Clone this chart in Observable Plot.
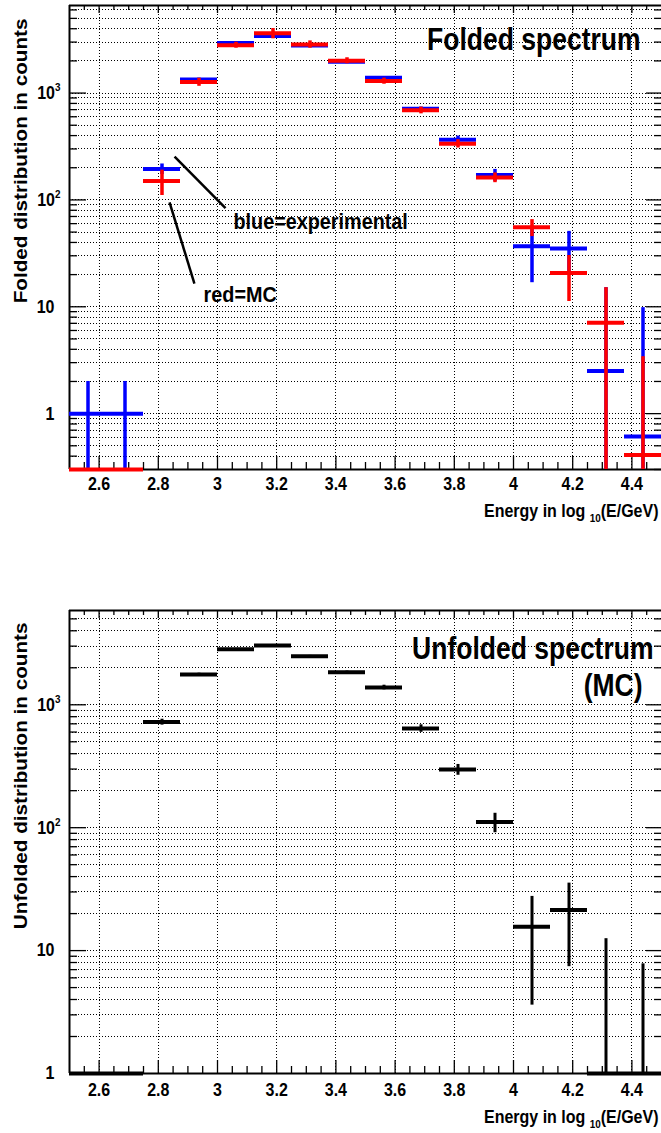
<!DOCTYPE html>
<html>
<head>
<meta charset="utf-8">
<script src="https://cdn.jsdelivr.net/npm/d3@7"></script>
<script src="https://cdn.jsdelivr.net/npm/@observablehq/plot@0.6"></script>
<style>
  html, body { margin: 0; padding: 0; background: #fff; overflow: hidden; }
  #chart svg { display: block; }
</style>
</head>
<body>
<div id="chart"></div>
<script>
// Energy bins in log10(E/GeV): bin centres, fixed bin width
const binCenters = [2.5625, 2.6875, 2.8125, 2.9375, 3.0625, 3.1875, 3.3125, 3.4375,
                    3.5625, 3.6875, 3.8125, 3.9375, 4.0625, 4.1875, 4.3125, 4.4375];
const binWidth = 0.125;

// Folded spectrum: experimental data (blue)
const foldedExp    = [1, 1, 195, 1340, 2940, 3420, 2790, 1960, 1390, 712, 366, 171, 36.8, 35.2, 2.5, 0.61];
const foldedExpErr = [1, 1, 22, 37, 54, 59, 53, 44, 37, 27, 30, 22, 20, 15.6, 12.6, 9.2];
// Folded spectrum: Monte Carlo (red)
const foldedMC     = [0, 0, 150, 1267, 2810, 3620, 2855, 2010, 1295, 689, 336, 162, 55.4, 20.7, 7.1, 0.41];
const foldedMCErr  = [0, 0, 40, 110, 180, 400, 225, 130, 85, 50, 30, 17, 10, 9.5, 8, 3];
// Unfolded spectrum, Monte Carlo (black)
const unfolded     = [0, 0, 723, 1762, 2831, 3034, 2483, 1841, 1383, 642, 297, 111, 15.6, 21.4, 0, 0];
const unfoldedErr  = [0, 0, 40, 45, 45, 45, 40, 40, 60, 45, 30, 20, 12, 14, 12.5, 7.8];

// Axis ticks and labels
const xMajor = [2.6, 2.8, 3.0, 3.2, 3.4, 3.6, 3.8, 4.0, 4.2, 4.4];
const xTickLabels = ["2.6", "2.8", "3", "3.2", "3.4", "3.6", "3.8", "4", "4.2", "4.4"];
const yTickValues = [1, 10, 100, 1000];
const yTickLabels = ["1", "10", "10^{2}", "10^{3}"];

const FONT = "'Liberation Sans', Arial, Helvetica, sans-serif";
const TEXT_STRETCH = 1.15;   // tall, narrow lettering of the ROOT canvas
const W = 661, ML = 69, MR = 0;
const xDomain = [2.5, 4.5];
const xMinor = d3.range(2.55, 4.5, 0.05).map(v => +v.toFixed(2))
  .filter(v => !xMajor.some(m => Math.abs(m - v) < 1e-6));

// 1..9 x 10^k subdivisions of a log axis
function logSteps(lo, hi) {
  const out = [];
  for (let e = Math.floor(Math.log10(lo)); Math.pow(10, e) <= hi; e++) {
    for (let m = 1; m <= 9; m++) {
      const v = m * Math.pow(10, e);
      if (v >= lo * 0.9999 && v <= hi) out.push({v, major: m === 1});
    }
  }
  return out;
}

function binRows(vals, errs, yMin) {
  return binCenters.map((c, i) => ({
    x: c, x1: c - binWidth / 2, x2: c + binWidth / 2,
    y: Math.max(vals[i], yMin),
    lo: Math.max(vals[i] - errs[i], yMin),
    hi: Math.max(vals[i] + errs[i], yMin),
    err: errs[i]
  }));
}

function histMarks(rows, color, barWidth, errWidth) {
  return [
    Plot.ruleY(rows, {y: "y", x1: "x1", x2: "x2", stroke: color, strokeWidth: barWidth}),
    Plot.ruleX(rows.filter(d => d.err > 0), {x: "x", y1: "lo", y2: "hi", stroke: color, strokeWidth: errWidth})
  ];
}

// grid, inward ticks, frame lines and tick labels in the ROOT style
function frameMarks(yDomain, fh, labelDy) {
  const fw = W - ML - MR;
  const steps = logSteps(yDomain[0], yDomain[1]);
  const grid = steps.filter(d => d.v > yDomain[0] * 1.0001);
  const major = steps.filter(d => d.major);
  const minor = steps.filter(d => !d.major);
  const dotted = {stroke: "#000", strokeWidth: 1, strokeDasharray: "1,2", shapeRendering: "crispEdges"};
  const tick = {strokeWidth: 1.3};
  const yLab = yTickValues.map((v, i) => ({v, label: yTickLabels[i]}));
  return [
    Plot.ruleX(xMajor, dotted),
    Plot.ruleY(grid, {y: "v", ...dotted}),
    Plot.ruleX(xMajor, {insetTop: fh - 13, ...tick}),
    Plot.ruleX(xMinor, {insetTop: fh - 7, ...tick}),
    Plot.ruleX(xMajor, {insetBottom: fh - 8, ...tick}),
    Plot.ruleX(xMinor, {insetBottom: fh - 5, ...tick}),
    Plot.ruleY(major, {y: "v", insetRight: fw - 17, ...tick}),
    Plot.ruleY(minor, {y: "v", insetRight: fw - 8, ...tick}),
    Plot.ruleY(major, {y: "v", insetLeft: fw - 15, ...tick}),
    Plot.ruleY(minor, {y: "v", insetLeft: fw - 7, ...tick}),
    Plot.ruleX([xDomain[0]], {strokeWidth: 2}),
    Plot.ruleY([yDomain[0]], {strokeWidth: 2}),
    Plot.ruleY([yDomain[1]], {strokeWidth: 2}),
    Plot.text(xMajor, {x: d => d, text: (d, i) => xTickLabels[i], frameAnchor: "bottom", dy: labelDy,
      fontSize: 16, fontWeight: "bold"}),
    Plot.text(yLab.filter(d => !d.label.includes("^")), {y: "v", text: "label", frameAnchor: "left",
      textAnchor: "end", dx: -15, fontSize: 16, fontWeight: "bold"}),
    Plot.text(yLab.filter(d => d.label.includes("^")), {y: "v", text: "label", frameAnchor: "left",
      textAnchor: "end", dx: -9, fontSize: 16, fontWeight: "bold"}),
    Plot.text(["Energy in log _{10}(E/GeV)"], {frameAnchor: "bottom-right", textAnchor: "end",
      dx: -3, dy: labelDy + 27, fontSize: 16, fontWeight: "bold"})
  ];
}

// turn ^{..} and _{..} into raised / lowered tspans
function richText(svg) {
  svg.querySelectorAll("text").forEach(t => {
    const s = t.textContent;
    if (!/[\^_]\{/.test(s)) return;
    const fs = parseFloat(getComputedStyle(t).fontSize) || 16;
    t.textContent = "";
    const re = /([\^_])\{([^}]*)\}/g;
    let last = 0, m, shift = 0;
    const add = (str, kind) => {
      const sp = document.createElementNS("http://www.w3.org/2000/svg", "tspan");
      sp.textContent = str;
      const target = kind === "^" ? -0.42 * fs : kind === "_" ? 0.32 * fs : 0;
      sp.setAttribute("dy", target - shift);
      shift = target;
      if (kind) sp.setAttribute("font-size", (0.62 * fs).toFixed(1));
      t.appendChild(sp);
    };
    while ((m = re.exec(s))) {
      if (m.index > last) add(s.slice(last, m.index), null);
      add(m[2], m[1]);
      last = re.lastIndex;
    }
    if (last < s.length) add(s.slice(last), null);
  });
}

// stretch glyphs along the screen's vertical direction around each text's anchor
function stretchText(svg, k) {
  svg.querySelectorAll("text").forEach(t => {
    const tr = t.getAttribute("transform") || "";
    if (!tr) return;
    t.setAttribute("transform", tr + (/rotate\(\s*-?90/.test(tr) ? ` scale(${k},1)` : ` scale(1,${k})`));
  });
}

// Folded spectrum panel
const topY = [0.3, 6600];
const topH = 540, topMT = 5, topMB = 71;
const topPlot = Plot.plot({
  width: W, height: topH, marginLeft: ML, marginRight: MR, marginTop: topMT, marginBottom: topMB,
  style: {fontFamily: FONT, background: "#fff", color: "#000"},
  x: {domain: xDomain, axis: null},
  y: {type: "log", domain: topY, axis: null},
  marks: [
    ...frameMarks(topY, topH - topMT - topMB, 20),
    ...histMarks(binRows(foldedExp, foldedExpErr, topY[0]), "#0000ff", 4, 3.5),
    ...histMarks(binRows(foldedMC, foldedMCErr, topY[0]), "#ff0000", 4, 3.5),
    Plot.link([{x1: 2.855, y1: 254, x2: 3.027, y2: 84}, {x1: 2.838, y1: 95, x2: 2.922, y2: 16.5}],
      {x1: "x1", y1: "y1", x2: "x2", y2: "y2", stroke: "#000", strokeWidth: 2.5}),
    Plot.text([{x: 3.054, y: 63, t: "blue=experimental"}, {x: 2.953, y: 13, t: "red=MC"}],
      {x: "x", y: "y", text: "t", textAnchor: "start", fontSize: 19.8, fontWeight: "bold"}),
    Plot.text(["Folded spectrum"], {frameAnchor: "top-right", textAnchor: "end", lineAnchor: "top",
      dx: -21, dy: 23, fontSize: 26.5, fontWeight: "bold"}),
    Plot.text(["Folded distribution in counts"], {frameAnchor: "top-left", rotate: -90, textAnchor: "end",
      dx: -55, dy: 13, fontSize: 18, fontWeight: "bold"})
  ]
});

// Unfolded spectrum panel
const botY = [1, 5850];
const botH = 593, botMT = 70, botMB = 60;
const botPlot = Plot.plot({
  width: W, height: botH, marginLeft: ML, marginRight: MR, marginTop: botMT, marginBottom: botMB,
  style: {fontFamily: FONT, background: "#fff", color: "#000"},
  x: {domain: xDomain, axis: null},
  y: {type: "log", domain: botY, axis: null},
  marks: [
    ...frameMarks(botY, botH - botMT - botMB, 22),
    ...histMarks(binRows(unfolded, unfoldedErr, botY[0]), "#000", 4, 3),
    Plot.text(["Unfolded spectrum"], {frameAnchor: "top-right", textAnchor: "end", lineAnchor: "top",
      dx: -8, dy: 27, fontSize: 26.5, fontWeight: "bold"}),
    Plot.text(["(MC)"], {frameAnchor: "top-right", textAnchor: "end", lineAnchor: "top",
      dx: -19, dy: 64, fontSize: 26.5, fontWeight: "bold"}),
    Plot.text(["Unfolded distribution in counts"], {frameAnchor: "top-left", rotate: -90, textAnchor: "end",
      dx: -55, dy: 12, fontSize: 18, fontWeight: "bold"})
  ]
});

const root = document.getElementById("chart");
root.appendChild(topPlot);
root.appendChild(botPlot);
for (const svg of [topPlot, botPlot]) {
  richText(svg);
  stretchText(svg, TEXT_STRETCH);
}
</script>
</body>
</html>
